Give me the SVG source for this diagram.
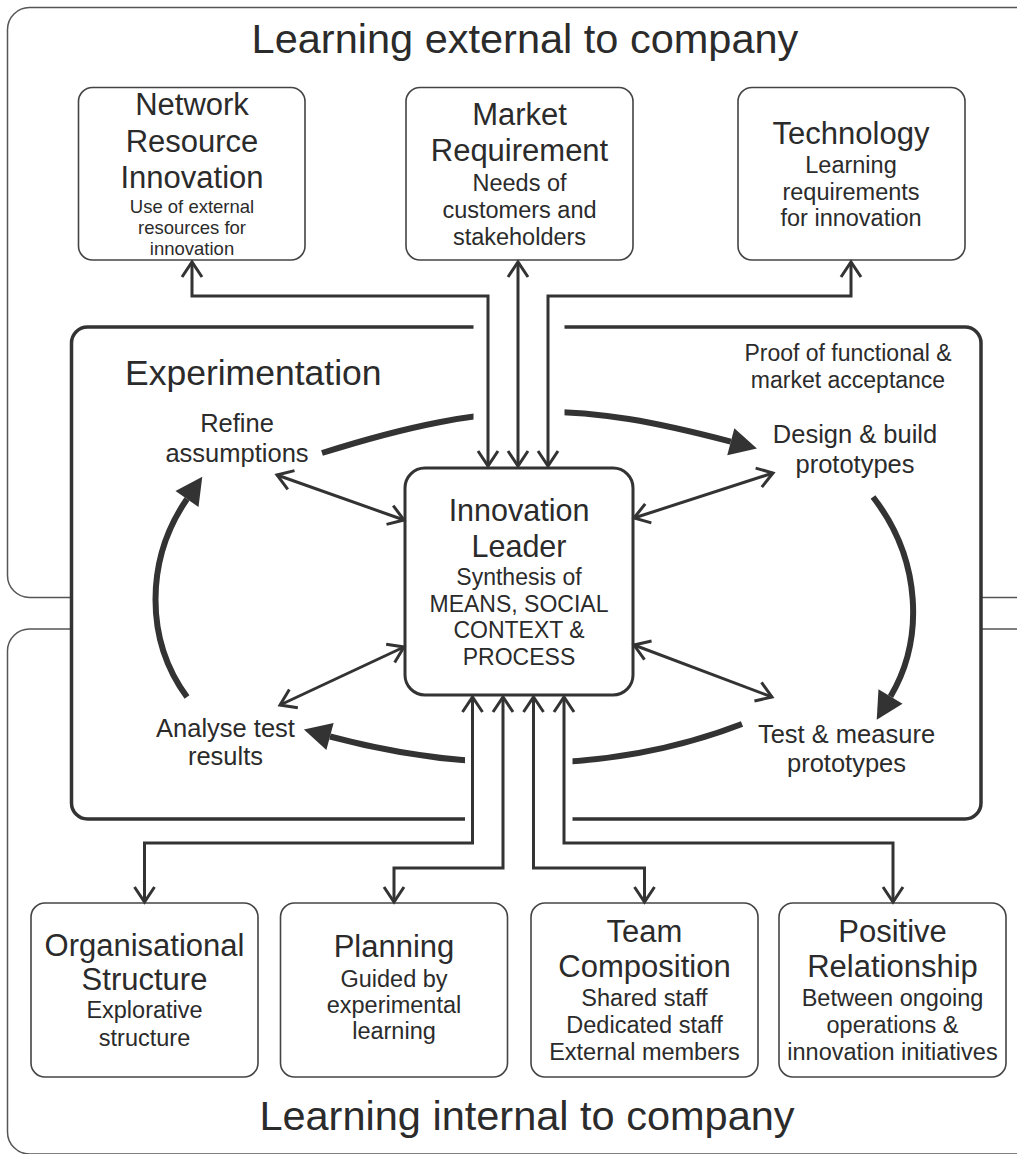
<svg xmlns="http://www.w3.org/2000/svg" width="1017" height="1154" viewBox="0 0 1017 1154">
<style>
text{font-family:"Liberation Sans",Arial,sans-serif;fill:#2b2b2b;text-anchor:middle}
.title{font-size:41.5px}
.h{font-size:31px}
.s{font-size:23.5px}
.ss{font-size:18.5px}
.lbl{font-size:25.5px}
.outer{fill:#fff;stroke:#555;stroke-width:1.5}
.box{fill:#fff;stroke:#444;stroke-width:1.6}
.thick{fill:#fff;stroke:#333;stroke-width:3.5}
.conn{fill:none;stroke:#333;stroke-width:3;marker-start:url(#chev);marker-end:url(#chev)}
.arc{fill:none;stroke:#333;stroke-width:6;marker-end:url(#tri)}
</style>
<defs>
<marker id="chev" viewBox="-22 -14 26 28" refX="0" refY="0" markerWidth="26" markerHeight="28" markerUnits="userSpaceOnUse" orient="auto-start-reverse">
<path d="M-15,-10 L0,0 L-15,10" fill="none" stroke="#333" stroke-width="3"/>
</marker>
<marker id="tri" viewBox="-1 -15 30 30" refX="0" refY="0" markerWidth="30" markerHeight="30" markerUnits="userSpaceOnUse" orient="auto">
<path d="M0,-14 L27,0 L0,14 Z" fill="#333"/>
</marker>
</defs>
<rect width="1017" height="1154" fill="#fff"/>

<g id="external">
<rect class="outer" x="7.5" y="7.5" width="1030" height="590" rx="22"/>
<text class="title" x="525" y="53">Learning external to company</text>
</g>
<g id="internal">
<rect class="outer" x="7.5" y="629" width="1030" height="525" rx="22"/>
<text class="title" x="527" y="1130">Learning internal to company</text>
</g>

<g id="experimentation">
<rect class="thick" x="71.5" y="327" width="909.5" height="492" rx="16"/>
<text x="125" y="385" style="font-size:35.5px;text-anchor:start">Experimentation</text>
<text x="848" y="361" style="font-size:23px">Proof of functional &amp;</text>
<text x="848" y="388" style="font-size:23px">market acceptance</text>
</g>

<g id="cycle">
<path class="arc" d="M322,453 C498.4,397.2 581.5,402.5 730.8,441.7"/>
<path class="arc" d="M873,497 C922,560 924,640 890.5,696.5"/>
<path class="arc" d="M742,724 C593,781.6 440,766 330,736.5"/>
<path class="arc" d="M187,697 C145,640 145,560 187,499"/>
</g>

<rect x="473.5" y="316" width="91" height="112" fill="#fff"/>
<rect x="465" y="745" width="107.5" height="85" fill="#fff"/>

<g id="refine"><text class="lbl" x="237" y="432">Refine</text><text class="lbl" x="237" y="462">assumptions</text></g>
<g id="design"><text class="lbl" x="855" y="443">Design &amp; build</text><text class="lbl" x="855" y="473">prototypes</text></g>
<g id="test"><text class="lbl" x="846.5" y="743">Test &amp; measure</text><text class="lbl" x="846.5" y="772">prototypes</text></g>
<g id="analyse"><text class="lbl" x="225.5" y="737">Analyse test</text><text class="lbl" x="225.5" y="765">results</text></g>

<g id="leader">
<rect class="thick" x="405" y="468" width="228" height="227" rx="20" style="stroke-width:3"/>
<text x="519" y="521" style="font-size:30.5px">Innovation</text>
<text x="519" y="557" style="font-size:30.5px">Leader</text>
<text x="519" y="585" style="font-size:23px">Synthesis of</text>
<text x="519" y="612" style="font-size:23px">MEANS, SOCIAL</text>
<text x="519" y="638" style="font-size:23px">CONTEXT &amp;</text>
<text x="519" y="665" style="font-size:23px">PROCESS</text>
</g>

<g id="network">
<rect class="box" x="78.5" y="87.5" width="226.5" height="172.5" rx="14"/>
<text class="h" x="192" y="115">Network</text>
<text class="h" x="192" y="152">Resource</text>
<text class="h" x="192" y="188">Innovation</text>
<text class="ss" x="192" y="213">Use of external</text>
<text class="ss" x="192" y="234">resources for</text>
<text class="ss" x="192" y="255">innovation</text>
</g>
<g id="market">
<rect class="box" x="406" y="87.5" width="227" height="172.5" rx="14"/>
<text class="h" x="519.5" y="125">Market</text>
<text class="h" x="519.5" y="161">Requirement</text>
<text class="s" x="519.5" y="191">Needs of</text>
<text class="s" x="519.5" y="218">customers and</text>
<text class="s" x="519.5" y="245">stakeholders</text>
</g>
<g id="technology">
<rect class="box" x="738" y="87.5" width="227" height="172.5" rx="14"/>
<text class="h" x="851" y="144">Technology</text>
<text class="s" x="851" y="173">Learning</text>
<text class="s" x="851" y="200">requirements</text>
<text class="s" x="851" y="226">for innovation</text>
</g>

<g id="organisational">
<rect class="box" x="31" y="903" width="227" height="174" rx="14"/>
<text class="h" x="144.5" y="956">Organisational</text>
<text class="h" x="144.5" y="990">Structure</text>
<text class="s" x="144.5" y="1018">Explorative</text>
<text class="s" x="144.5" y="1046">structure</text>
</g>
<g id="planning">
<rect class="box" x="280.5" y="903" width="227" height="174" rx="14"/>
<text class="h" x="394" y="957">Planning</text>
<text class="s" x="394" y="987">Guided by</text>
<text class="s" x="394" y="1013">experimental</text>
<text class="s" x="394" y="1039">learning</text>
</g>
<g id="team">
<rect class="box" x="531" y="903" width="227" height="174" rx="14"/>
<text class="h" x="644.5" y="942">Team</text>
<text class="h" x="644.5" y="977">Composition</text>
<text class="s" x="644.5" y="1006">Shared staff</text>
<text class="s" x="644.5" y="1033">Dedicated staff</text>
<text class="s" x="644.5" y="1060">External members</text>
</g>
<g id="positive">
<rect class="box" x="779" y="903" width="227" height="174" rx="14"/>
<text class="h" x="892.5" y="942">Positive</text>
<text class="h" x="892.5" y="977">Relationship</text>
<text class="s" x="892.5" y="1006">Between ongoing</text>
<text class="s" x="892.5" y="1033">operations &amp;</text>
<text class="s" x="892.5" y="1060">innovation initiatives</text>
</g>

<g id="connectors">
<path class="conn" d="M488,466 V296 H192 V262"/>
<path class="conn" d="M518,466 V262"/>
<path class="conn" d="M548,466 V296 H851 V262"/>
<path class="conn" d="M277,475 L404,520"/>
<path class="conn" d="M634,518 L773,473"/>
<path class="conn" d="M280,705 L404,647"/>
<path class="conn" d="M634,645 L772,697"/>
<path class="conn" d="M472.5,697 V843 H144.5 V902"/>
<path class="conn" d="M503,697 V868 H394 V902"/>
<path class="conn" d="M533.5,697 V868 H644.5 V902"/>
<path class="conn" d="M564,697 V843 H893 V902"/>
</g>
</svg>
